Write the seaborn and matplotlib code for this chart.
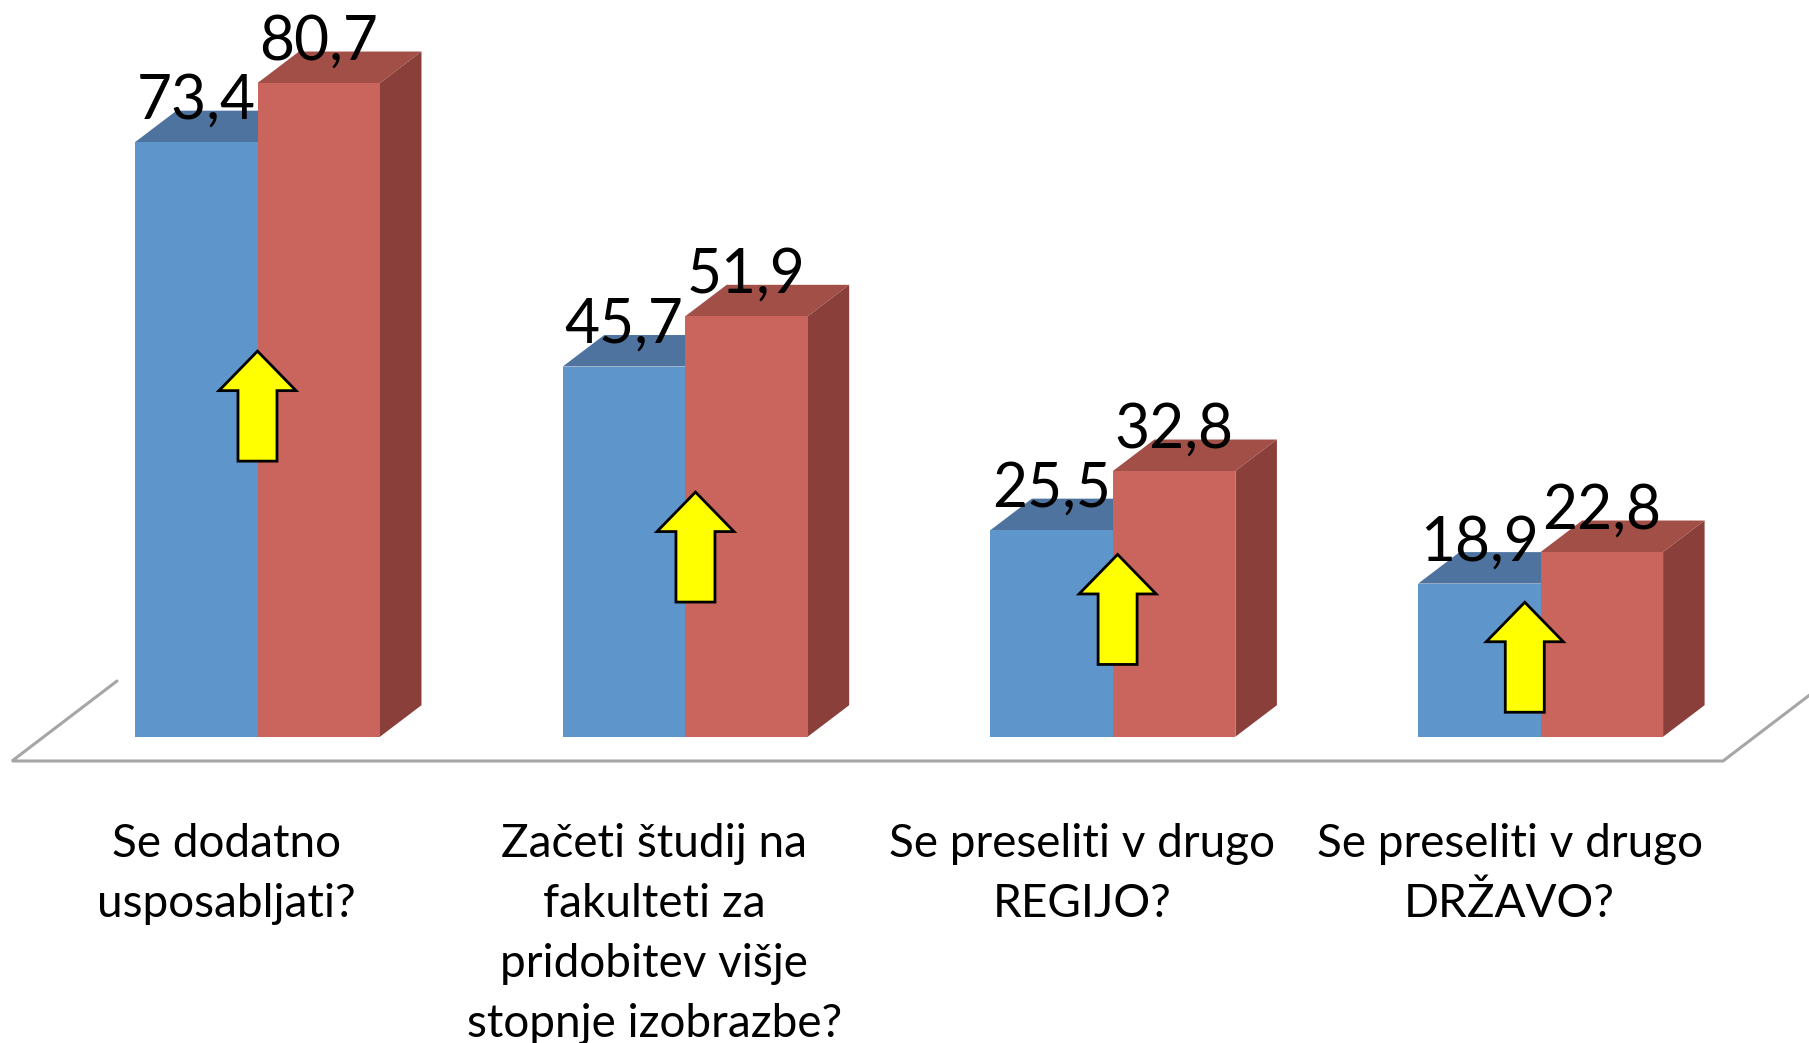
import matplotlib
matplotlib.use("Agg")
import matplotlib.pyplot as plt
from matplotlib.patches import Polygon
from matplotlib.transforms import ScaledTranslation
import pandas as pd
import seaborn as sns

categories = ["Se dodatno\nusposabljati?",
              "Začeti študij na\nfakulteti za\npridobitev višje\nstopnje izobrazbe?",
              "Se preseliti v drugo\nREGIJO?",
              "Se preseliti v drugo\nDRŽAVO?"]
series_a = [73.4, 45.7, 25.5, 18.9]
series_b = [80.7, 51.9, 32.8, 22.8]
arrow_x = [0.0, 0.024, 0.011, -0.037]      # arrow tip, relative to category
arrow_tip = [47.6, 30.2, 22.5, 16.6]       # arrow tip height in value units
colors = ["#5e96cb", "#c9655c"]
top_colors = ["#4f739f", "#a24f48"]
side_colors = ["#4a6d96", "#8a3f3a"]

W, H = 1809, 1043
BASE = 736.7
PX_PER_UNIT = 8.1
GROUP = 427.7
C0 = 257.5
DX, DY = 41.5 / GROUP, 31.5 / PX_PER_UNIT

sns.set_theme(style="white")
plt.rcParams["font.family"] = ["Lato", "DejaVu Sans"]

fig = plt.figure(figsize=(W / 100, H / 100), dpi=100, facecolor="white")
ax = fig.add_axes([0, (H - BASE) / H, 1, BASE / H])

df = pd.DataFrame({
    "cat": categories * 2,
    "val": series_a + series_b,
    "s": ["a"] * 4 + ["b"] * 4,
})
sns.barplot(data=df, x="cat", y="val", hue="s", palette=colors, width=0.5728,
            gap=0, saturation=1, legend=False, ax=ax, linewidth=0)
ax.set_xlim(-C0 / GROUP, (W - C0) / GROUP)
ax.set_ylim(0, BASE / PX_PER_UNIT)
ax.set_xlabel("")
ax.set_ylabel("")
ax.set_yticks([])
for sp in ax.spines.values():
    sp.set_visible(False)

# floor outline
fx0 = (12 - C0) / GROUP
fx1 = (1723 - C0) / GROUP
fy = -(761 - BASE) / PX_PER_UNIT
back = (761 - 681) / PX_PER_UNIT
ax.plot([fx0 + 105 / GROUP, fx0, fx1, fx1 + 105 / GROUP],
        [fy + back, fy, fy, fy + back],
        color="#a6a6a6", lw=2.2, clip_on=False, zorder=0.5,
        solid_joinstyle="miter")

# 3D faces and value labels
for k, cont in enumerate(ax.containers):
    z = 1 + k * 2
    for bar, v in zip(cont, series_a if k == 0 else series_b):
        x0, w = bar.get_x(), bar.get_width()
        x1 = x0 + w
        bar.set_zorder(z + 1)
        ax.add_patch(Polygon([(x0, v), (x1, v), (x1 + DX, v + DY), (x0 + DX, v + DY)],
                             closed=True, fc=top_colors[k], ec="none", zorder=z))
        ax.add_patch(Polygon([(x1, 0), (x1 + DX, DY), (x1 + DX, v + DY), (x1, v)],
                             closed=True, fc=side_colors[k], ec="none", zorder=z))
        ax.annotate(f"{v:.1f}".replace(".", ","), (x0 + w / 2, v),
                    xytext=(0, 23.5 * 0.72), textcoords="offset points",
                    ha="center", va="baseline", fontsize=43.6, color="black",
                    zorder=10)

# yellow arrows, outline given in pixels from the tip
shape = [(0, 0), (38.5, -39.5), (19.5, -39.5), (19.5, -110),
         (-19.5, -110), (-19.5, -39.5), (-38.5, -39.5)]
for i, (ax_off, tip) in enumerate(zip(arrow_x, arrow_tip)):
    tx, ty = ax.transData.transform((i + ax_off, tip))
    ax.add_patch(Polygon([(tx + a, ty + b) for a, b in shape], closed=True,
                         transform=None, fc="#ffff00", ec="black", lw=2.0,
                         joinstyle="miter", zorder=8))

# category labels
ax.tick_params(axis="x", length=0, pad=86 * 0.72, labelsize=33, labelcolor="black")
shift = ScaledTranslation(-31 / 100, 0, fig.dpi_scale_trans)
for lab in ax.get_xticklabels():
    lab.set_transform(lab.get_transform() + shift)
    lab.set_linespacing(1.53)
    lab.set_ha("center")
    lab.set_va("top")

fig.savefig("out.png", dpi=100, facecolor="white")
